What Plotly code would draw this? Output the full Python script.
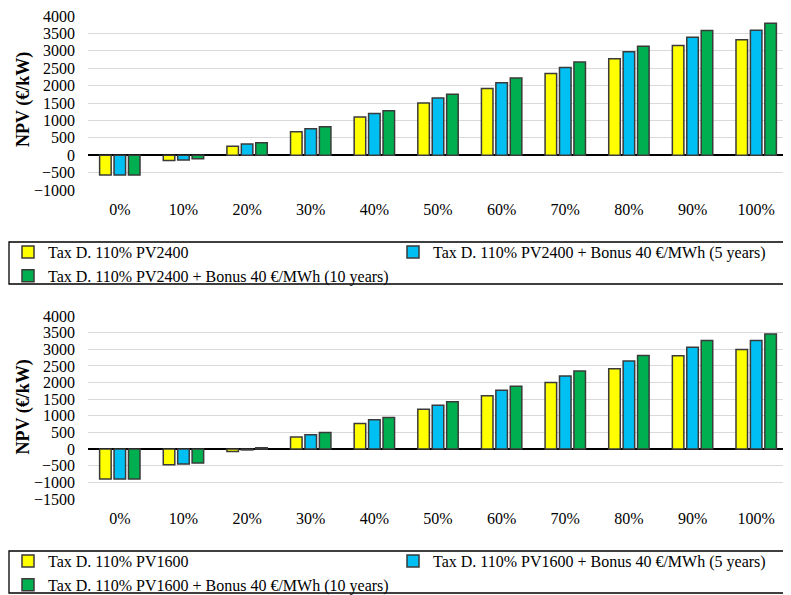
import plotly.graph_objects as go

categories = ["0%", "10%", "20%", "30%", "40%", "50%", "60%", "70%", "80%", "90%", "100%"]

# Top chart (PV2400)
top_names = [
    "Tax D. 110% PV2400",
    "Tax D. 110% PV2400 + Bonus 40 €/MWh (5 years)",
    "Tax D. 110% PV2400 + Bonus 40 €/MWh (10 years)",
]
top_base = [-570, -155, 255, 675, 1095, 1500, 1920, 2350, 2770, 3150, 3320]
top_bonus5 = [-570, -135, 320, 760, 1195, 1645, 2085, 2520, 2975, 3390, 3590]
top_bonus10 = [-570, -105, 355, 815, 1280, 1755, 2220, 2675, 3130, 3580, 3790]

# Bottom chart (PV1600)
bot_names = [
    "Tax D. 110% PV1600",
    "Tax D. 110% PV1600 + Bonus 40 €/MWh (5 years)",
    "Tax D. 110% PV1600 + Bonus 40 €/MWh (10 years)",
]
bot_base = [-900, -470, -70, 360, 770, 1195, 1605, 2005, 2415, 2805, 2995]
bot_bonus5 = [-900, -450, -25, 430, 880, 1315, 1765, 2195, 2645, 3060, 3260]
bot_bonus10 = [-900, -420, 40, 500, 950, 1425, 1885, 2345, 2815, 3260, 3460]

colors = ["#FFFF00", "#00BFF3", "#00B050"]
OFF = 8  # default page body margin
W, H = 791 - OFF, 595 - OFF
FONT = "Liberation Serif"


def px_x(p):
    return (p - OFF) / W


def px_y(p):
    return min(1.0, max(0.0, 1 - (p - OFF) / H))


fig = go.Figure()
for name, vals, c in zip(top_names, [top_base, top_bonus5, top_bonus10], colors):
    fig.add_trace(go.Bar(x=categories, y=vals, name=name, marker=dict(color=c, line=dict(color="#3a3a3a", width=1.5)),
                         xaxis="x", yaxis="y", legend="legend"))
for name, vals, c in zip(bot_names, [bot_base, bot_bonus5, bot_bonus10], colors):
    fig.add_trace(go.Bar(x=categories, y=vals, name=name, marker=dict(color=c, line=dict(color="#3a3a3a", width=1.5)),
                         xaxis="x2", yaxis="y2", legend="legend2"))

xdom = [px_x(88), px_x(788)]
axis_font = dict(family=FONT, size=16, color="#000000")
common_x = dict(domain=xdom, showgrid=False, showline=False, ticks="", tickfont=axis_font, ticklabelstandoff=8,
                automargin=False)
common_y = dict(showgrid=True, gridcolor="#d9d9d9", gridwidth=1.3, zeroline=True, zerolinecolor="#000000",
                zerolinewidth=1.5, showline=False, ticks="", tickfont=axis_font, dtick=500, ticklabelstandoff=12,
                automargin=False, ticklabeloverflow="allow")

legend_common = dict(orientation="h", xanchor="left", yanchor="top", bgcolor="rgba(0,0,0,0)",
                     xref="container", yref="container",
                     font=dict(family=FONT, size=16, color="#000000"), entrywidth=340, entrywidthmode="pixels",
                     traceorder="normal", tracegroupgap=0)

fig.update_layout(
    width=W, height=H,
    margin=dict(l=0, r=0, t=0, b=0, autoexpand=False),
    paper_bgcolor="white", plot_bgcolor="white",
    barmode="group", bargap=0.32, bargroupgap=0.2,
    font=dict(family=FONT, size=16, color="#000000"),
    xaxis=dict(anchor="y", **common_x),
    yaxis=dict(anchor="x", domain=[px_y(190), px_y(16)], range=[-1000, 4000], **common_y),
    xaxis2=dict(anchor="y2", **common_x),
    yaxis2=dict(anchor="x2", domain=[px_y(499), px_y(316)], range=[-1500, 4000], **common_y),
    legend=dict(x=px_x(8), y=px_y(235), **legend_common),
    legend2=dict(x=px_x(8), y=px_y(544), **legend_common),
    showlegend=True,
    shapes=[
        dict(type="rect", xref="paper", yref="paper", x0=px_x(9), x1=px_x(786), y0=px_y(284), y1=px_y(242),
             line=dict(color="#000000", width=1.3)),
        dict(type="rect", xref="paper", yref="paper", x0=px_x(9), x1=px_x(786), y0=px_y(593), y1=px_y(551),
             line=dict(color="#000000", width=1.3)),
    ],
    annotations=[
        dict(text="<b>NPV (€/kW)</b>", xref="paper", yref="paper", x=px_x(23), y=px_y(100), textangle=-90,
             showarrow=False, font=dict(family=FONT, size=18, color="#000000"), xanchor="center", yanchor="middle"),
        dict(text="<b>NPV (€/kW)</b>", xref="paper", yref="paper", x=px_x(23), y=px_y(407.5), textangle=-90,
             showarrow=False, font=dict(family=FONT, size=18, color="#000000"), xanchor="center", yanchor="middle"),
    ],
)

fig.write_html("out.html")
